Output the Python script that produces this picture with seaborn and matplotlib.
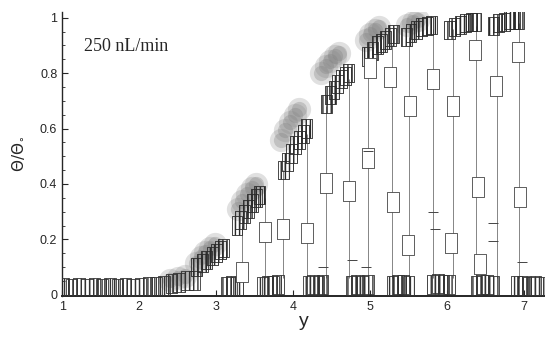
import numpy as np
import pandas as pd
import matplotlib
matplotlib.use("Agg")
import matplotlib.pyplot as plt
import seaborn as sns

# ── data ──
# dense staircase clusters along the advancing front
front_x = [2.75, 2.82, 2.88, 2.95, 3.00, 3.06, 3.10,
           3.27, 3.32, 3.37, 3.42, 3.47, 3.52, 3.56,
           3.88, 3.93, 3.98, 4.03, 4.08, 4.13, 4.17,
           4.43, 4.48, 4.53, 4.58, 4.63, 4.68, 4.72,
           4.97, 5.03, 5.09, 5.15, 5.20, 5.26, 5.30,
           5.47, 5.53, 5.60, 5.67, 5.74, 5.80,
           6.03, 6.10, 6.17, 6.24, 6.31, 6.37,
           6.60, 6.67, 6.74, 6.81, 6.88, 6.93]
front_y = [0.10, 0.115, 0.125, 0.14, 0.15, 0.16, 0.17,
           0.25, 0.27, 0.29, 0.31, 0.33, 0.35, 0.36,
           0.45, 0.48, 0.51, 0.54, 0.56, 0.58, 0.60,
           0.69, 0.72, 0.74, 0.76, 0.78, 0.79, 0.80,
           0.86, 0.88, 0.90, 0.91, 0.92, 0.93, 0.94,
           0.93, 0.945, 0.955, 0.965, 0.97, 0.975,
           0.955, 0.965, 0.975, 0.98, 0.985, 0.985,
           0.97, 0.98, 0.985, 0.99, 0.99, 0.99]

# boxes sitting on the baseline
base_x = [1.02, 1.12, 1.22, 1.32, 1.42, 1.52, 1.62, 1.72, 1.82, 1.92,
          2.02, 2.12, 2.22, 2.32, 2.42, 2.52, 2.62, 2.72,
          3.14, 3.20, 3.27, 3.60, 3.67, 3.74, 3.80,
          4.20, 4.26, 4.33, 4.38, 4.76, 4.83, 4.90, 4.97,
          5.29, 5.36, 5.43, 5.50, 5.81, 5.88, 5.95, 6.03,
          6.38, 6.45, 6.52, 6.60, 6.90, 6.98, 7.06, 7.14, 7.22]
base_y = [0.025, 0.022, 0.025, 0.023, 0.025, 0.022, 0.025, 0.024, 0.026, 0.024,
          0.027, 0.028, 0.030, 0.035, 0.040, 0.045, 0.050, 0.050,
          0.030, 0.035, 0.030, 0.030, 0.035, 0.032, 0.036,
          0.032, 0.036, 0.034, 0.038, 0.034, 0.038, 0.035, 0.036,
          0.034, 0.038, 0.036, 0.035, 0.036, 0.040, 0.038, 0.036,
          0.034, 0.038, 0.036, 0.034, 0.032, 0.034, 0.030, 0.032, 0.030]

# isolated open boxes along the traces
mid_x = [3.34, 3.64, 3.87, 4.18, 4.43, 4.73, 4.97, 5.30, 5.49, 5.00, 5.26,
         5.52, 5.81, 6.05, 6.08, 6.36, 6.40, 6.43, 6.64, 6.92, 6.95]
mid_y = [0.083, 0.227, 0.238, 0.223, 0.404, 0.375, 0.494, 0.335, 0.180, 0.820, 0.786,
         0.680, 0.780, 0.187, 0.680, 0.883, 0.390, 0.110, 0.753, 0.876, 0.353]

# small cross ticks on the traces
tick_x = [4.39, 4.77, 4.94, 5.82, 5.84, 6.60, 6.60, 6.97, 4.97]
tick_y = [0.100, 0.126, 0.100, 0.300, 0.238, 0.260, 0.195, 0.120, 0.520]

# thin vertical traces
trace_x = [3.34, 3.64, 3.87, 4.18, 4.43, 4.73, 4.97, 5.28, 5.50, 5.82, 6.07, 6.37, 6.65, 6.93]
trace_lo = [0.06] * 14
trace_hi = [0.25, 0.35, 0.45, 0.58, 0.68, 0.78, 0.85, 0.90, 0.93, 0.96, 0.96, 0.97, 0.97, 0.98]

# grey halftone shadows up-left of the front clusters
shade_x = [2.40, 2.50, 2.60,
           2.74, 2.80, 2.86, 2.92, 2.98,
           3.28, 3.34, 3.40, 3.46, 3.52,
           3.84, 3.90, 3.96, 4.02, 4.08,
           4.36, 4.42, 4.48, 4.54, 4.60,
           4.94, 5.00, 5.06, 5.12,
           5.48, 5.55, 5.62]
shade_y = [0.055, 0.062, 0.068,
           0.115, 0.135, 0.155, 0.170, 0.182,
           0.310, 0.340, 0.365, 0.385, 0.400,
           0.560, 0.595, 0.625, 0.650, 0.670,
           0.800, 0.825, 0.845, 0.860, 0.872,
           0.920, 0.940, 0.955, 0.965,
           0.975, 0.985, 0.990]

box = [(-0.3, -0.5), (0.3, -0.5), (0.3, 0.5), (-0.3, 0.5), (-0.3, -0.5)]

front = pd.DataFrame({"y": front_x, "theta": front_y})
base = pd.DataFrame({"y": base_x, "theta": base_y})
mid = pd.DataFrame({"y": mid_x, "theta": mid_y})
ticks = pd.DataFrame({"y": tick_x, "theta": tick_y})
shade = pd.DataFrame({"y": shade_x, "theta": shade_y})

sns.set_style("ticks")
plt.rcParams["font.family"] = ["Liberation Sans", "DejaVu Sans"]

fig = plt.figure(figsize=(5.45, 3.37), dpi=100)
ax = fig.add_axes([0.114, 0.122, 0.886, 0.842])

# soft shadow: two passes, wide and faint, then narrower
sns.scatterplot(data=shade, x="y", y="theta", ax=ax, marker="o", s=280,
                color="#909090", alpha=0.28, linewidth=0, zorder=1)
sns.scatterplot(data=shade, x="y", y="theta", ax=ax, marker="o", s=120,
                color="#808080", alpha=0.32, linewidth=0, zorder=1)
ax.vlines(trace_x, trace_lo, trace_hi, color="#555555", lw=0.5, zorder=2)
sns.scatterplot(data=base, x="y", y="theta", ax=ax, marker=box, s=190,
                facecolor="none", edgecolor="#333333", linewidth=0.6,
                hatch="||||", zorder=3)
sns.scatterplot(data=front, x="y", y="theta", ax=ax, marker=box, s=170,
                facecolor="none", edgecolor="#2a2a2a", linewidth=0.6,
                hatch="||||", zorder=3)
sns.scatterplot(data=mid, x="y", y="theta", ax=ax, marker=box, s=200,
                facecolor="white", edgecolor="#444444", linewidth=0.6, zorder=3)
sns.scatterplot(data=ticks, x="y", y="theta", ax=ax, marker="_", s=50,
                color="#444444", linewidth=0.7, zorder=3)

ax.set_xlim(1, 7.27)
ax.set_ylim(-0.004, 1.02)
ax.set_xticks([1, 2, 3, 4, 5, 6, 7])
ax.set_yticks([0, 0.2, 0.4, 0.6, 0.8, 1])
ax.set_yticklabels(["0", "0.2", "0.4", "0.6", "0.8", "1"])
ax.set_yticks(np.arange(0.05, 1.0, 0.05), minor=True)
ax.tick_params(axis="both", direction="in", labelsize=9, length=4, width=0.8)
ax.tick_params(axis="y", which="minor", direction="in", length=2)
sns.despine(ax=ax)
ax.spines["left"].set_linewidth(1.0)
ax.spines["bottom"].set_linewidth(1.4)

ax.set_xlabel("y", fontsize=14, labelpad=0)
ax.set_ylabel(r"$\Theta/\Theta_{\circ}$", fontsize=11, labelpad=10)
ax.text(1.28, 0.88, "250 nL/min", fontsize=13, family="Liberation Serif")

fig.savefig("out.png", dpi=100)
